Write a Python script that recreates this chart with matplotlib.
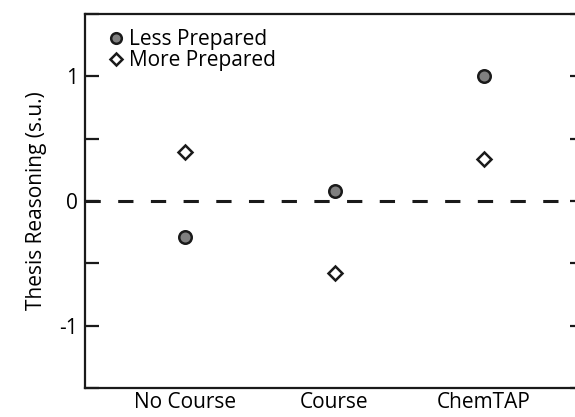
import matplotlib
matplotlib.use("Agg")
import matplotlib.pyplot as plt
from matplotlib.ticker import MultipleLocator

categories = ["No Course", "Course", "ChemTAP"]
less_prepared = [-0.29, 0.08, 1.00]
more_prepared = [0.39, -0.58, 0.34]
yticks = [-1, 0, 1]
ytick_labels = ["-1", "0", "1"]

plt.rcParams['font.family'] = ['Open Sans', 'DejaVu Sans']
FS = 15

fig = plt.figure(figsize=(5.75, 4.17), dpi=100)
W, H = 575, 417
left, right, top, bottom = 85, 584, 14, 388
ax = fig.add_axes([left / W, 1 - bottom / H, (right - left) / W, (bottom - top) / H])

x = list(range(1, len(categories) + 1))
ax.axhline(0, color='#1a1a1a', lw=2.2, dashes=(5, 5.7), zorder=1)
ax.plot(x, less_prepared, 'o', ms=9, mfc='#808080', mec='#1a1a1a', mew=1.8,
        ls='none', label='Less Prepared', zorder=3)
ax.plot(x, more_prepared, 'D', ms=7.5, mfc='white', mec='#1a1a1a', mew=1.8,
        ls='none', label='More Prepared', zorder=3)

ax.set_xlim(0.33, 3.67)
ax.set_ylim(-1.5, 1.5)
ax.set_xticks(x)
ax.set_xticklabels(categories, fontsize=FS)
ax.set_yticks(yticks)
ax.set_yticklabels(ytick_labels, fontsize=FS)
ax.yaxis.set_minor_locator(MultipleLocator(0.5))
ax.tick_params(axis='x', length=0, pad=3)
ax.tick_params(axis='y', which='both', direction='in', length=10, width=1.6,
               right=True, left=True, pad=5, color='#1a1a1a')
ax.set_ylabel('Thesis Reasoning (s.u.)', fontsize=FS, labelpad=9)

for s in ax.spines.values():
    s.set_linewidth(1.6)
    s.set_color('#1a1a1a')

leg = ax.legend(loc='upper left', bbox_to_anchor=(9 / (right - left), 1 - 4 / (bottom - top)),
                frameon=False, fontsize=FS,
                handletextpad=0.15, labelspacing=0.0, borderaxespad=0.3, handlelength=1.0,
                borderpad=0.25, markerscale=0.85)

fig.savefig('out.png', dpi=100)
